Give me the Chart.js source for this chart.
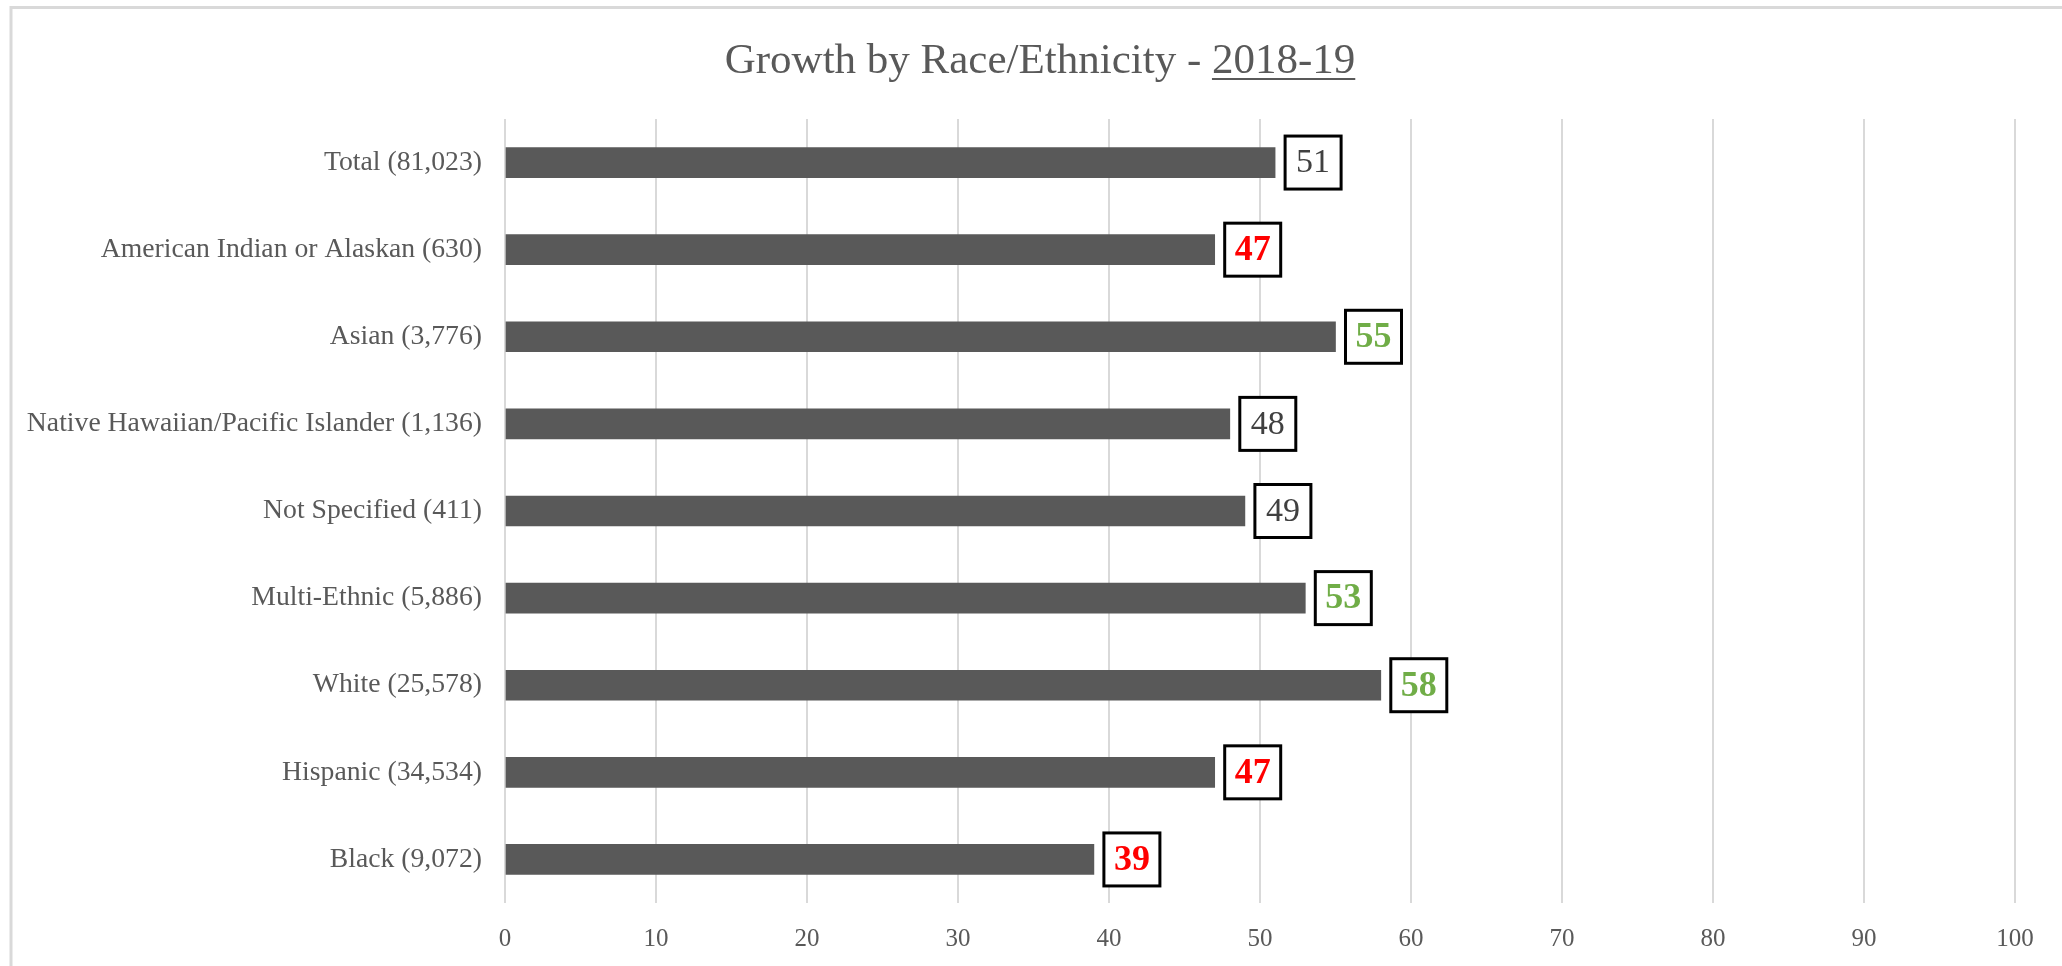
<!DOCTYPE html>
<html>
<head>
<meta charset="utf-8">
<title>Growth by Race/Ethnicity - 2018-19</title>
<script src="https://cdn.jsdelivr.net/npm/chart.js@4.4.1/dist/chart.umd.min.js"></script>
<style>
    html, body { margin: 0; padding: 0; background: #fff; }
    #wrap { width: 2062px; height: 966px; position: relative; }
</style>
</head>
<body>
<div id="wrap"><canvas id="barChart"></canvas></div>
<script>
var titleText = "Growth by Race/Ethnicity";
var titleYear = "2018-19";
var groups = [
    "Total (81,023)",
    "American Indian or Alaskan (630)",
    "Asian (3,776)",
    "Native Hawaiian/Pacific Islander (1,136)",
    "Not Specified (411)",
    "Multi-Ethnic (5,886)",
    "White (25,578)",
    "Hispanic (34,534)",
    "Black (9,072)"
];
var growth = [51, 47, 55, 48, 49, 53, 58, 47, 39];
// how each value compares with the total
var labelStatus = ["same", "low", "high", "same", "same", "high", "high", "low", "low"];
var axisMin = 0, axisMax = 100, axisStep = 10;

var serif = '"Liberation Serif", "Times New Roman", serif';
var statusColours = { same: "#404040", low: "#ff0000", high: "#70ad47" };

// light grey frame round the chart (runs off the right and bottom edge)
var frame = {
    id: 'frame',
    beforeDraw: function (chart) {
        var ctx = chart.ctx;
        ctx.save();
        ctx.fillStyle = '#ffffff';
        ctx.fillRect(0, 0, chart.width, chart.height);
        ctx.strokeStyle = '#d9d9d9';
        ctx.lineWidth = 3;
        ctx.strokeRect(11, 7.5, chart.width + 40, chart.height + 40);
        ctx.restore();
    }
};

// title with the year underlined
var heading = {
    id: 'heading',
    afterDraw: function (chart) {
        var ctx = chart.ctx;
        var main = titleText + " - ";
        ctx.save();
        ctx.font = '43px ' + serif;
        ctx.fillStyle = '#595959';
        ctx.textAlign = 'left';
        ctx.textBaseline = 'alphabetic';
        var w1 = ctx.measureText(main).width;
        var w2 = ctx.measureText(titleYear).width;
        var x = chart.width / 2 + 9 - (w1 + w2) / 2;
        ctx.fillText(main, x, 73);
        ctx.fillText(titleYear, x + w1, 73);
        ctx.fillRect(x + w1, 78, w2, 2);
        ctx.restore();
    }
};

// boxed value at the end of each bar
var valueBoxes = {
    id: 'valueBoxes',
    afterDatasetsDraw: function (chart) {
        var ctx = chart.ctx;
        var meta = chart.getDatasetMeta(0);
        ctx.save();
        meta.data.forEach(function (bar, i) {
            var s = labelStatus[i];
            var left = bar.x + 10, top = bar.y - 26.5;
            ctx.fillStyle = '#ffffff';
            ctx.fillRect(left, top, 56, 53);
            ctx.lineWidth = 3;
            ctx.strokeStyle = '#000000';
            ctx.strokeRect(left, top, 56, 53);
            ctx.font = (s === 'same' ? '34px ' : 'bold 36px ') + serif;
            ctx.fillStyle = statusColours[s];
            ctx.textAlign = 'center';
            ctx.textBaseline = 'middle';
            ctx.fillText(String(growth[i]), left + 28, bar.y + 1);
        });
        ctx.restore();
    }
};

var ctxB = document.getElementById("barChart").getContext('2d');
var growthChart = new Chart(ctxB, {
    type: 'bar',
    data: {
        labels: groups,
        datasets: [{
            label: "Growth",
            data: growth,
            backgroundColor: '#595959',
            borderWidth: 0,
            barThickness: 30
        }]
    },
    options: {
        indexAxis: 'y',
        responsive: true,
        maintainAspectRatio: false,
        animation: false,
        layout: { padding: { top: 119, right: 47, bottom: 0, left: 0 } },
        plugins: {
            legend: { display: false },
            title: { display: false },
            tooltip: { enabled: false }
        },
        scales: {
            x: {
                min: axisMin,
                max: axisMax,
                ticks: {
                    stepSize: axisStep,
                    padding: 21,
                    color: '#595959',
                    font: { family: serif, size: 25 }
                },
                grid: { color: '#d9d9d9', lineWidth: 2, drawTicks: false },
                border: { display: false },
                afterFit: function (scale) { scale.height = 63; }
            },
            y: {
                ticks: {
                    padding: 23,
                    color: '#595959',
                    font: { family: serif, size: 27.7 }
                },
                grid: { display: false, drawTicks: false },
                border: { display: false },
                afterFit: function (scale) { scale.width = 505; }
            }
        }
    },
    plugins: [frame, heading, valueBoxes]
});
</script>
</body>
</html>
